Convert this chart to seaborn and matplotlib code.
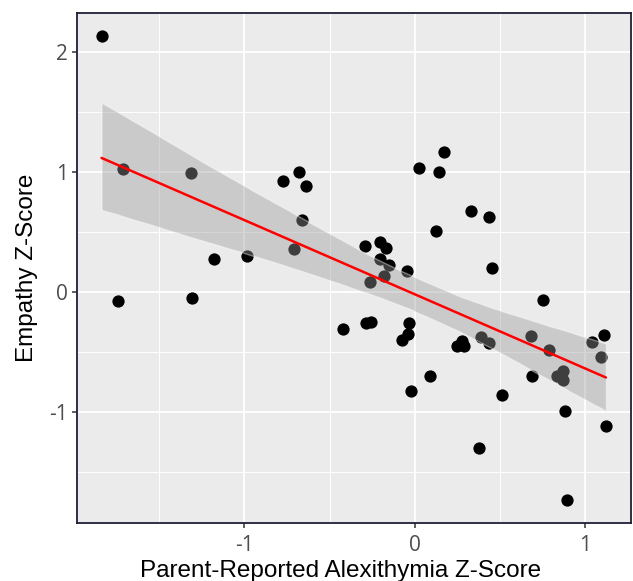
import numpy as np
import pandas as pd
import matplotlib
matplotlib.use("Agg")
import matplotlib.pyplot as plt
from matplotlib.ticker import MultipleLocator
import seaborn as sns

# === Data ===
alexithymia_z = [-1.838, -1.711, -1.314, -0.774, -0.678, -0.637, -0.661, -0.710, -1.181, -0.987,
                 -1.740, -1.308, -0.424,
                 0.168, 0.022, 0.143, 0.330, 0.434, 0.121, -0.293, -0.207, -0.172, -0.203,
                 -0.152, -0.182, -0.045, -0.262, 0.450, 0.749, -0.289, -0.258, -0.033, -0.039,
                 -0.078, 0.276, 0.248, 0.289, 0.389, 0.434, 0.682, 0.784, 1.040, 1.107, 1.091,
                 0.866, 0.833, 0.870, 0.684, 0.090, -0.023, 0.510,
                 0.878, 1.120, 0.373, 0.889]
empathy_z = [2.136, 1.022, 0.994, 0.925, 0.997, 0.883, 0.597, 0.358, 0.275, 0.303,
             -0.072, -0.053, -0.306,
             1.167, 1.031, 0.997, 0.678, 0.625, 0.511, 0.386, 0.417, 0.364, 0.272,
             0.225, 0.136, 0.172, 0.083, 0.200, -0.069, -0.261, -0.253, -0.261, -0.347,
             -0.400, -0.408, -0.450, -0.450, -0.375, -0.428, -0.364, -0.486, -0.417, -0.358, -0.539,
             -0.661, -0.700, -0.736, -0.700, -0.700, -0.828, -0.861,
             -0.989, -1.119, -1.300, -1.733]
x_ticks = [-1, 0, 1]
y_ticks = [-1, 0, 1, 2]

df = pd.DataFrame({"alex": alexithymia_z, "emp": empathy_z})

# === Style ===
sns.set_style("darkgrid", {"axes.facecolor": "#ebebeb", "grid.color": "white"})
plt.rcParams["font.family"] = ["Liberation Sans", "DejaVu Sans"]

fig, ax = plt.subplots(figsize=(6.33, 5.81), dpi=100)
fig.subplots_adjust(left=0.1216, right=0.9968, top=0.9776, bottom=0.0998)

sns.regplot(data=df, x="alex", y="emp", ax=ax, ci=95, n_boot=2000, seed=3,
            scatter_kws={"s": 78, "color": "black", "alpha": 1, "linewidths": 0},
            line_kws={"color": "red", "lw": 1.8})

# recolour the confidence band like ggplot's ribbon
band = ax.collections[-1]
band.set_facecolor("#999999")
band.set_alpha(0.4)

ax.set_xlim(-1.982, 1.267)
ax.set_ylim(-1.925, 2.325)
ax.set_xticks(x_ticks)
ax.set_yticks(y_ticks)
ax.xaxis.set_minor_locator(MultipleLocator(0.5))
ax.yaxis.set_minor_locator(MultipleLocator(0.5))
ax.grid(which="major", color="white", lw=1.3)
ax.grid(which="minor", color="white", lw=0.7)

for side in ["left", "bottom", "top", "right"]:
    ax.spines[side].set_visible(True)
    ax.spines[side].set_color("#1f1f3a")
    ax.spines[side].set_linewidth(1.3)

ax.tick_params(axis="both", which="major", length=3.6, width=1.1, color="#333333",
               labelsize=15, labelcolor="#4d4d4d")
ax.tick_params(axis="x", which="major", pad=5)
ax.tick_params(axis="y", which="major", pad=3)
ax.tick_params(axis="both", which="minor", length=0)
ax.tick_params(bottom=True, left=True)
ax.set_xticklabels(["-1", "0", "1"], fontfamily="Open Sans")
ax.set_yticklabels(["-1", "0", "1", "2"], fontfamily="Open Sans")

ax.set_xlabel("Parent-Reported Alexithymia Z-Score", fontsize=17.5, color="black", labelpad=0)
ax.set_ylabel("Empathy Z-Score", fontsize=17.5, color="black", labelpad=8)
ax.xaxis.set_label_coords(0.475, -0.073)

plt.savefig("out.png", dpi=100)
plt.close()
